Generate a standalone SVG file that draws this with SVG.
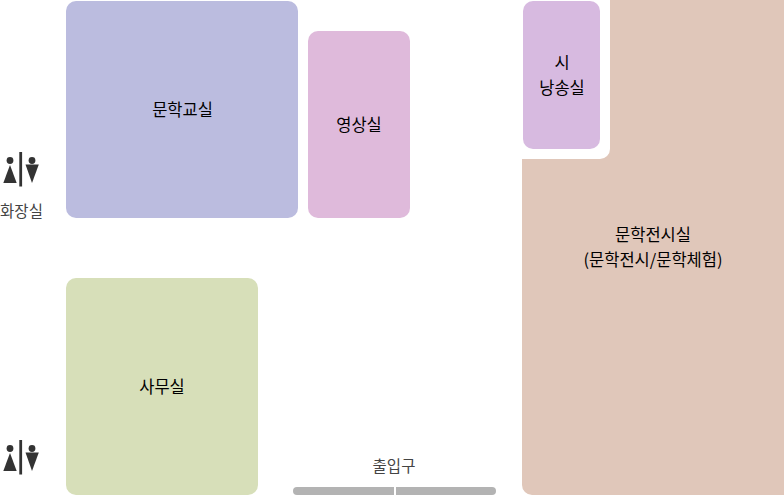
<svg xmlns="http://www.w3.org/2000/svg" width="784" height="495" viewBox="0 0 784 495">
<defs>
<style>
text{font-family:"Noto Sans CJK KR","Noto Sans",sans-serif;font-size:16.5px;text-anchor:middle;fill:#000}
.g{fill:#444;font-size:15.5px}
.ic{fill:#333}
</style>
<g id="wc">
<rect class="ic" x="19.300" y="0" width="2.8" height="34.500"/>
<circle class="ic" cx="10" cy="8.500" r="3.400"/>
<path class="ic" d="M10 13L3.300 31H16.700Z"/>
<circle class="ic" cx="32" cy="8.500" r="3.400"/>
<path class="ic" d="M25.500 12.500H38.800L32 31Z"/>
</g>
</defs>
<rect width="784" height="495" fill="#fff"/>
<g id="room-literature-class"><rect x="66" y="1" width="232" height="217" rx="10" fill="#bbbcdf"/><text x="182.500" y="116">문학교실</text></g>
<g id="room-video"><rect x="308" y="31" width="102" height="187" rx="10" fill="#dfbadb"/><text x="359" y="131">영상실</text></g>
<g id="room-exhibit"><path d="M610 0H784V495H532a10 10 0 0 1-10-10V159H600a10 10 0 0 0 10-10Z" fill="#e0c7ba"/><text x="653" y="241">문학전시실</text><text x="653" y="266">(문학전시/문학체험)</text></g>
<g id="room-poetry"><rect x="523" y="1" width="77" height="148" rx="10" fill="#d7bae0"/><text x="562" y="69">시</text><text x="562" y="94">낭송실</text></g>
<g id="room-office"><rect x="66" y="278" width="192" height="217" rx="10" fill="#d7dfb9"/><text x="162" y="393">사무실</text></g>
<g id="restroom-top"><use href="#wc" y="152"/><text class="g" x="21.500" y="217">화장실</text></g>
<g id="restroom-bottom"><use href="#wc" y="440"/></g>
<g id="entrance"><text class="g" x="394" y="472">출입구</text><rect x="293" y="487" width="203" height="8" rx="4" fill="#b3b3b3"/><rect x="394" y="487" width="2" height="8" fill="#fff"/></g>
<g id="connectors"/>
</svg>
